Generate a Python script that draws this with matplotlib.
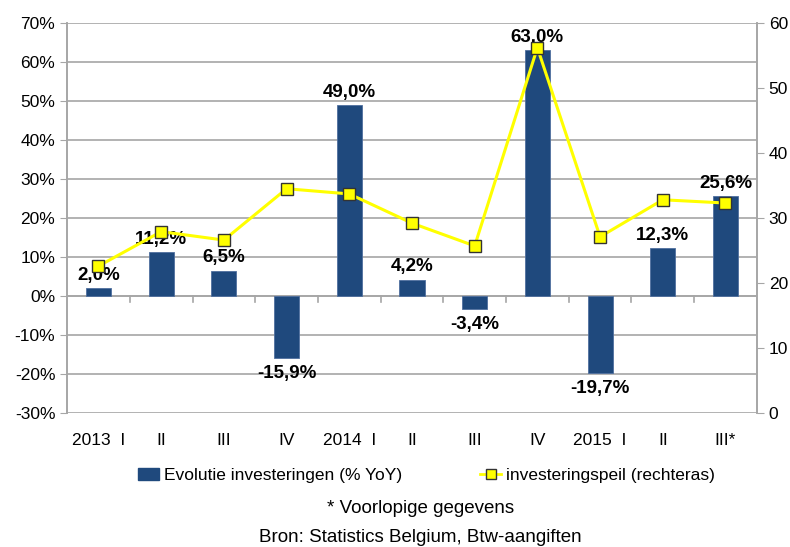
import numpy as np
import matplotlib
matplotlib.use("Agg")
import matplotlib.pyplot as plt
from matplotlib.lines import Line2D
from matplotlib.patches import Patch

plt.rcParams["font.family"] = ["Liberation Sans", "DejaVu Sans"]

# ---------------------------------------------------------------- data
quarters = ["2013  I", "II", "III", "IV", "2014  I", "II", "III", "IV",
            "2015  I", "II", "III*"]
evolutie = [2.0, 11.2, 6.5, -15.9, 49.0, 4.2, -3.4, 63.0, -19.7, 12.3, 25.6]
peil = [22.6, 27.9, 26.6, 34.5, 33.7, 29.2, 25.7, 56.2, 27.1, 32.8, 32.3]

BAR = "#1f497d"
LINE = "#ffff00"
GRID = "#a6a6a6"

fig = plt.figure(figsize=(7.9, 5.47), dpi=100)
ax = fig.add_axes([0.085, 0.245, 0.873, 0.713])
ax2 = ax.twinx()

x = np.arange(len(quarters))
ax.bar(x, evolutie, width=0.4, color=BAR, edgecolor="#4f6f9f", linewidth=0.6, zorder=3)
ax.set_ylim(-30, 70)
ax.set_xlim(-0.5, len(quarters) - 0.5)
ax.set_yticks(range(-30, 71, 10))
ax.set_yticklabels([f"{v}%" for v in range(-30, 71, 10)], fontsize=12.5)
ax.yaxis.grid(True, color=GRID, lw=1.2, zorder=0)
ax.set_axisbelow(True)

for xi, v in zip(x, evolutie):
    lab = f"{v:.1f}%".replace(".", ",")
    if v >= 0:
        ax.annotate(lab, (xi, v), xytext=(0, 3), textcoords="offset points",
                    ha="center", va="bottom", fontsize=13.5, fontweight="bold", zorder=6)
    else:
        ax.annotate(lab, (xi, v), xytext=(0, -5), textcoords="offset points",
                    ha="center", va="top", fontsize=13.5, fontweight="bold", zorder=6)

# category separators on the zero line, labels at the bottom
ax.set_xticks([])
for b in x[:-1] + 0.5:
    ax.plot([b, b], [0, -1.5], color=GRID, lw=1.2, zorder=2)
ax.axhline(0, color=GRID, lw=1.2, zorder=2)
for xi, lab in zip(x, quarters):
    ax.text(xi, -35.2, lab, ha="center", va="top", fontsize=12.5)

ax2.plot(x, peil, color=LINE, lw=2.2, marker="s", markersize=8.5,
         markerfacecolor=LINE, markeredgecolor="#333333", markeredgewidth=1, zorder=5)
ax2.set_ylim(0, 60)
ax2.set_yticks(range(0, 61, 10))
ax2.tick_params(axis="y", labelsize=12.5, color=GRID, length=5)
ax.tick_params(axis="y", color=GRID, length=5)

for a in (ax, ax2):
    a.spines["top"].set_visible(False)
    a.spines["bottom"].set_visible(False)
    for side in ("left", "right"):
        a.spines[side].set_color(GRID)
        a.spines[side].set_linewidth(1.2)

handles = [Patch(color=BAR),
           Line2D([], [], color=LINE, lw=2, marker="s", markersize=6.5,
                  markerfacecolor=LINE, markeredgecolor="#333333")]
fig.legend(handles, ["Evolutie investeringen (% YoY)", "investeringspeil (rechteras)"],
           loc="center", bbox_to_anchor=(0.54, 0.131), ncol=2, frameon=False,
           fontsize=12.5, handlelength=1.2, handletextpad=0.3, columnspacing=4.5)
fig.text(0.532, 0.071, "* Voorlopige gegevens", ha="center", va="center", fontsize=13.5)
fig.text(0.532, 0.018, "Bron: Statistics Belgium, Btw-aangiften", ha="center",
         va="center", fontsize=13.5)

fig.savefig("out.png", dpi=100)
